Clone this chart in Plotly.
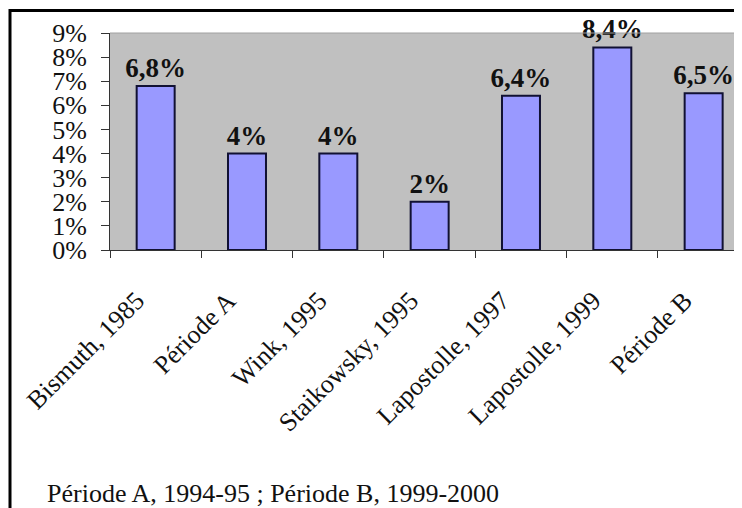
import plotly.graph_objects as go

categories = ["Bismuth, 1985", "Période A", "Wink, 1995", "Staikowsky, 1995",
              "Lapostolle, 1997", "Lapostolle, 1999", "Période B"]
values = [6.8, 4, 4, 2, 6.4, 8.4, 6.5]
value_labels = ["6,8%", "4%", "4%", "2%", "6,4%", "8,4%", "6,5%"]
y_tick_values = [0, 1, 2, 3, 4, 5, 6, 7, 8, 9]
y_tick_labels = ["0%", "1%", "2%", "3%", "4%", "5%", "6%", "7%", "8%", "9%"]
footnote = "Période A, 1994-95 ; Période B, 1999-2000"

FONT = "Liberation Serif"

OFF = 8  # default page body margin
W, H = 742 - OFF, 508 - OFF
L, R, T = 110 - OFF, 0, 33 - OFF
B = H - (250 - OFF)
pw, ph = W - L - R, H - T - B

def px_x(p):
    return (p - OFF - L) / pw

def px_y(p):
    return (H - B - (p - OFF)) / ph

fig = go.Figure(go.Bar(
    x=categories, y=values,
    text=value_labels, textposition="outside", cliponaxis=False,
    constraintext="none",
    textfont=dict(family=FONT, size=27, color="#111111", weight="bold"),
    marker=dict(color="#9999ff", line=dict(color="#111133", width=2)),
))

fig.update_layout(
    width=W, height=H,
    margin=dict(l=L, r=R, t=T, b=B, pad=0),
    paper_bgcolor="white", plot_bgcolor="#c0c0c0",
    bargap=0.584, showlegend=False,
    font=dict(family=FONT, color="#111111"),
)
fig.update_xaxes(
    range=[-0.5, 6.42], tickson="boundaries", ticks="outside", ticklen=7,
    tickcolor="#333333", tickwidth=1, showline=True, linecolor="#333333", linewidth=1,
    tickangle=-45, tickfont=dict(family=FONT, size=26, color="#111111"),
    showgrid=False, zeroline=False, ticklabelstandoff=24, ticklabelshift=-19,
)
fig.update_yaxes(
    range=[0, 9], tickvals=y_tick_values, ticktext=y_tick_labels,
    ticks="outside", ticklen=8, tickcolor="#333333", tickwidth=1,
    showline=True, linecolor="#333333", linewidth=1,
    tickfont=dict(family=FONT, size=26, color="#111111"),
    showgrid=False, zeroline=False, ticklabelstandoff=9,
)

# plot top edge
fig.add_shape(type="line", xref="paper", yref="paper", x0=0, x1=1.02, y0=1, y1=1,
              line=dict(color="#a0a0a0", width=1))
# outer frame (left and top)
fig.add_shape(type="line", xref="paper", yref="paper",
              x0=px_x(10), x1=px_x(10), y0=px_y(9), y1=px_y(520),
              line=dict(color="black", width=3))
fig.add_shape(type="line", xref="paper", yref="paper",
              x0=px_x(9), x1=px_x(760), y0=px_y(10.5), y1=px_y(10.5),
              line=dict(color="black", width=3))

fig.add_annotation(text=footnote, xref="paper", yref="paper",
                   x=px_x(45), y=px_y(493), xanchor="left", yanchor="middle",
                   showarrow=False, font=dict(family=FONT, size=26, color="#111111"))

fig.write_html("out.html")
